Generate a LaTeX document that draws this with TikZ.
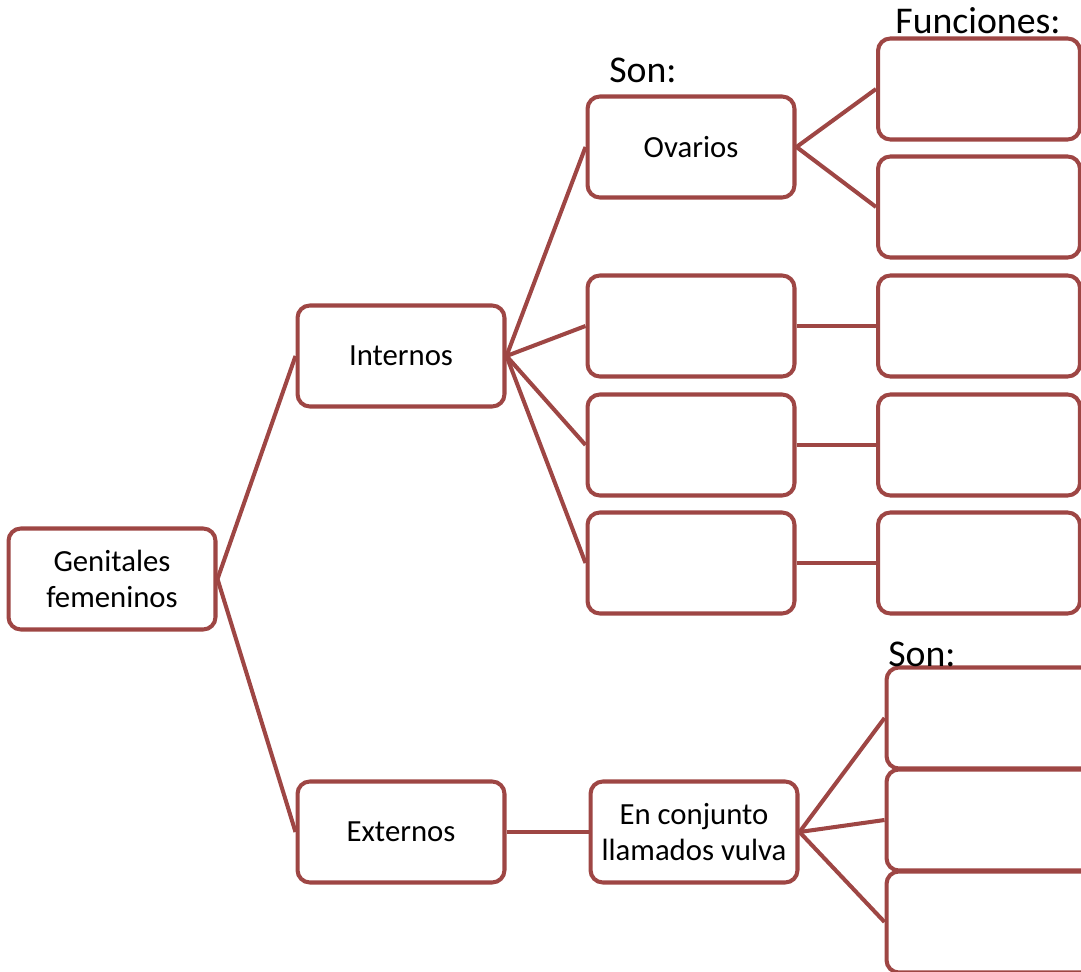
\documentclass[tikz,border=0pt]{standalone}
\usepackage{fontspec}
\setmainfont{Carlito}
\definecolor{borde}{RGB}{158,70,68}

\begin{document}
\begin{tikzpicture}[x=0.02cm,y=-0.02cm,
		caja/.style={draw=borde,line width=2.3pt,rounded corners=7pt,fill=white,
			minimum width=4.14cm,minimum height=2.02cm,inner sep=0pt,align=center,
			font=\fontsize{17.5}{20}\selectfont},
		vacia/.style={caja,minimum width=4.04cm},
		rotulo/.style={font=\fontsize{21.5}{24}\selectfont,inner sep=0pt},
		linea/.style={draw=borde,line width=2.3pt}]
			\useasboundingbox (0,0) rectangle (1081,972);
			\node[caja]  at (112,579)  (gen)  {Genitales\\femeninos};
			\node[caja]  at (401,356)  (int)  {Internos};
			\node[caja]  at (401,832)  (ext)  {Externos};
			\draw[linea] (gen.east) -- (int.west);
			\draw[linea] (gen.east) -- (ext.west);
			% internos
			\node[caja]  at (691,147)  (ov)   {Ovarios};
			\node[caja]  at (691,326)  (i2)   {};
			\node[caja]  at (691,445)  (i3)   {};
			\node[caja]  at (691,563)  (i4)   {};
			\draw[linea] (int.east) -- (ov.west);
			\draw[linea] (int.east) -- (i2.west);
			\draw[linea] (int.east) -- (i3.west);
			\draw[linea] (int.east) -- (i4.west);
			\node[rotulo]  at (643,70)  (son1)  {Son:};
			% funciones
			\node[vacia]  at (979,89)   (f1)  {};
			\node[vacia]  at (979,207)  (f2)  {};
			\node[vacia]  at (979,326)  (f3)  {};
			\node[vacia]  at (979,445)  (f4)  {};
			\node[vacia]  at (979,563)  (f5)  {};
			\draw[linea] (ov.east) -- (f1.west);
			\draw[linea] (ov.east) -- (f2.west);
			\draw[linea] (i2.east) -- (f3.west);
			\draw[linea] (i3.east) -- (f4.west);
			\draw[linea] (i4.east) -- (f5.west);
			\node[rotulo]  at (978,21)  (fun)  {Funciones:};
			% externos
			\node[caja]  at (694,832)  (vul)  {En conjunto\\llamados vulva};
			\draw[linea] (ext.east) -- (vul.west);
			\node[caja]  at (990,718)  (v1)  {};
			\node[caja]  at (990,820)  (v2)  {};
			\node[caja]  at (990,922)  (v3)  {};
			\draw[linea] (vul.east) -- (v1.west);
			\draw[linea] (vul.east) -- (v2.west);
			\draw[linea] (vul.east) -- (v3.west);
			\node[rotulo]  at (922,654)  (son2)  {Son:};
		\end{tikzpicture}
\end{document}
